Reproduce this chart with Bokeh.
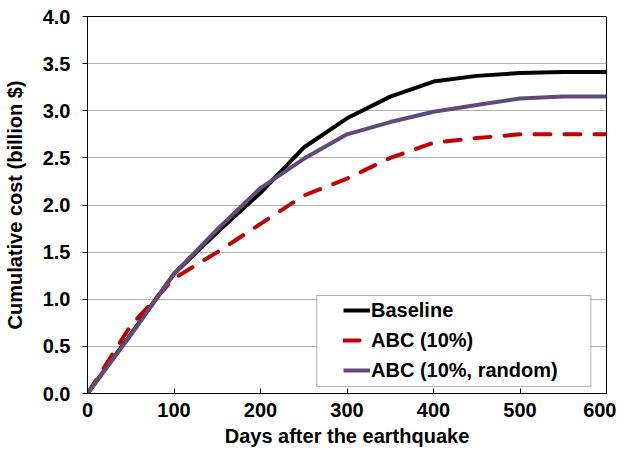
from bokeh.plotting import figure
from bokeh.models import Legend, LegendItem, NumeralTickFormatter, FixedTicker, Range1d, BoxAnnotation
from bokeh.embed import file_html
from bokeh.resources import INLINE

days = [0, 50, 100, 150, 200, 250, 300, 350, 400, 450, 500, 550, 600]
baseline = [0, 0.63, 1.27, 1.71, 2.13, 2.61, 2.92, 3.15, 3.31, 3.37, 3.40, 3.41, 3.41]
abc10 = [0, 0.72, 1.22, 1.50, 1.80, 2.10, 2.28, 2.50, 2.66, 2.71, 2.75, 2.75, 2.75]
abc10_random = [0, 0.62, 1.27, 1.74, 2.18, 2.49, 2.75, 2.88, 2.99, 3.06, 3.13, 3.15, 3.15]

x_ticks = [0, 100, 200, 300, 400, 500, 600]
y_ticks = [0, 0.5, 1.0, 1.5, 2.0, 2.5, 3.0, 3.5, 4.0]

FONT = "Liberation Sans"
FS = "20px"

p = figure(width=616, height=451, output_backend="svg", toolbar_location=None,
           x_range=Range1d(0, 600), y_range=Range1d(0, 4.0),
           min_border_left=86, min_border_right=10, min_border_top=16, min_border_bottom=58)

p.outline_line_color = "black"
p.outline_line_width = 1
p.xgrid.grid_line_color = None
p.ygrid.grid_line_color = "#b0b0b0"
p.ygrid.grid_line_width = 1

p.xaxis.ticker = FixedTicker(ticks=x_ticks)
p.yaxis.ticker = FixedTicker(ticks=y_ticks)
p.yaxis.formatter = NumeralTickFormatter(format="0.0")
p.xaxis.minor_tick_line_color = None
p.yaxis.minor_tick_line_color = None
p.xaxis.major_tick_in = 5
p.xaxis.major_tick_out = 0
p.yaxis.major_tick_in = 0
p.yaxis.major_tick_out = 5
for ax in (p.xaxis, p.yaxis):
    ax.axis_line_color = "black"
    ax.major_tick_line_color = "black"
    ax.major_label_text_font = FONT
    ax.major_label_text_font_style = "bold"
    ax.major_label_text_font_size = FS
    ax.major_label_text_color = "black"
    ax.axis_label_text_font = FONT
    ax.axis_label_text_font_style = "bold"
    ax.axis_label_text_font_size = FS
    ax.axis_label_text_color = "black"

p.xaxis.axis_label = "Days after the earthquake"
p.yaxis.axis_label = "Cumulative cost (billion $)"
p.xaxis.major_label_standoff = 9
p.xaxis.axis_label_standoff = 5
p.yaxis.major_label_standoff = 12
p.yaxis.axis_label_standoff = 14

r1 = p.line(days, baseline, line_color="black", line_width=4)
r2 = p.line(days, abc10, line_color="#C00000", line_width=4, line_dash="16 14", line_cap="round")
r3 = p.line(days, abc10_random, line_color="#604A7B", line_width=4)

box = BoxAnnotation(left=265, right=582, bottom=0.075, top=1.04,
                    fill_color="white", fill_alpha=1.0, line_color="black", line_width=1, level="annotation")
p.add_layout(box)

legend = Legend(items=[LegendItem(label="Baseline", renderers=[r1]),
                       LegendItem(label="ABC (10%)", renderers=[r2]),
                       LegendItem(label="ABC (10%, random)", renderers=[r3])],
                location=(256, 8), padding=0, spacing=0, margin=0,
                label_height=30, glyph_height=30, glyph_width=27, label_standoff=1,
                border_line_alpha=0, background_fill_alpha=0,
                label_text_font=FONT, label_text_font_style="bold", label_text_font_size=FS,
                label_text_color="black")
p.add_layout(legend)

open("out.html", "w").write(file_html(p, INLINE))
